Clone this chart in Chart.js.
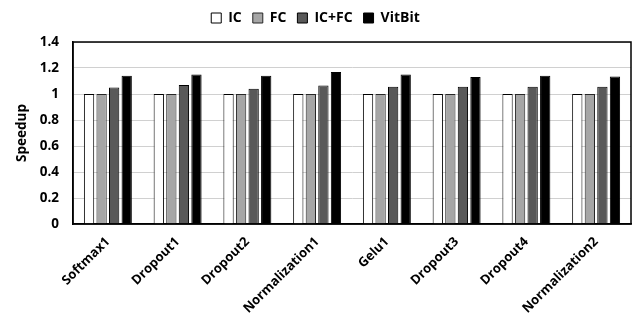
<!DOCTYPE html>
<html lang="en">
<head>
  <meta charset="UTF-8">
  <title>Speedup</title>
  <script src="https://cdn.jsdelivr.net/npm/chart.js"></script>
  <style>
    body { margin: 0; background: #fff; }
    .wrap { width: 634px; height: 331px; }
  </style>
</head>
<body>
  <div class="wrap"><canvas id="chart" width="634" height="331"></canvas></div>
  <script>
    // data
    const categories = ['Softmax1', 'Dropout1', 'Dropout2', 'Normalization1', 'Gelu1', 'Dropout3', 'Dropout4', 'Normalization2'];
    const icValues = [1, 1, 1, 1, 1, 1, 1, 1];
    const fcValues = [1, 1, 1, 1, 1, 1, 1, 1];
    const icfcValues = [1.05, 1.07, 1.04, 1.065, 1.055, 1.055, 1.055, 1.055];
    const vitbitValues = [1.14, 1.15, 1.14, 1.17, 1.15, 1.13, 1.14, 1.135];

    const FONT = "'Open Sans', 'Noto Sans', sans-serif";

    // box around the plot area
    const frame = {
      id: 'frame',
      afterDatasetsDraw(chart) {
        const a = chart.chartArea, ctx = chart.ctx;
        ctx.save();
        ctx.strokeStyle = '#000';
        ctx.lineWidth = 1.5;
        ctx.strokeRect(a.left, a.top, a.right - a.left, a.bottom - a.top);
        ctx.restore();
      }
    };

    // fixed legend height so the plot starts where it does in the picture
    const legendHeight = {
      id: 'legendHeight',
      beforeInit(chart) {
        const fit = chart.legend.fit;
        chart.legend.fit = function () {
          fit.bind(chart.legend)();
          this.height = 42;
        };
      }
    };

    const bar = (label, data, bg, border) => ({
      label, data,
      backgroundColor: bg,
      borderColor: border,
      borderWidth: 1,
      categoryPercentage: 0.72,
      barPercentage: 0.82
    });

    new Chart(document.getElementById('chart'), {
      type: 'bar',
      data: {
        labels: categories,
        datasets: [
          bar('IC', icValues, '#ffffff', '#000000'),
          bar('FC', fcValues, '#a6a6a6', '#262626'),
          bar('IC+FC', icfcValues, '#595959', '#000000'),
          bar('VitBit', vitbitValues, '#000000', '#000000')
        ]
      },
      options: {
        responsive: false,
        animation: false,
        layout: { padding: { left: 0, right: 3, top: 0, bottom: 0 } },
        plugins: {
          legend: {
            position: 'top',
            labels: {
              boxWidth: 10,
              boxHeight: 10,
              padding: 11,
              color: '#000',
              font: { family: FONT, size: 14, weight: 'bold' }
            }
          },
          tooltip: { enabled: false }
        },
        scales: {
          x: {
            grid: { display: false },
            border: { color: '#000', width: 1.5 },
            ticks: {
              minRotation: 45,
              maxRotation: 45,
              color: '#000',
              padding: 2,
              font: { family: FONT, size: 13, weight: 'bold' }
            },
            afterFit(scale) { scale.height = 107; }
          },
          y: {
            min: 0,
            max: 1.4,
            ticks: {
              stepSize: 0.2,
              color: '#000',
              padding: 14,
              font: { family: FONT, size: 13.5, weight: 'bold' },
              callback: v => String(Number(v.toFixed(1)))
            },
            grid: { color: '#d0d0d0', lineWidth: 1, drawTicks: false },
            border: { color: '#000', width: 1.5 },
            title: {
              display: true,
              text: 'Speedup',
              color: '#000',
              padding: { top: 14, bottom: 0 },
              font: { family: FONT, size: 13.5, weight: 'bold' }
            },
            afterFit(scale) { scale.width = 73; }
          }
        }
      },
      plugins: [frame, legendHeight]
    });
  </script>
</body>
</html>
